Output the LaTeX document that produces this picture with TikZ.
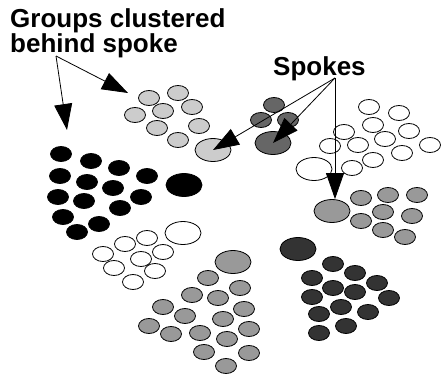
\documentclass[tikz,border=0pt]{standalone}
\usepackage{fontspec}
\setmainfont{Liberation Sans}
\usetikzlibrary{shapes.geometric,arrows.meta}
\definecolor{palegray}{HTML}{CCCCCC}
\definecolor{midgray}{HTML}{999999}
\definecolor{slategray}{HTML}{666666}
\definecolor{coalgray}{HTML}{333333}
\begin{document}
\begin{tikzpicture}[x=1pt, y=-1pt,
  blob/.style={draw, ellipse, line width=0.8pt, inner sep=0pt, minimum width=21pt, minimum height=15pt},
  spoke/.style={draw, ellipse, line width=0.8pt, inner sep=0pt, minimum width=36pt, minimum height=23pt},
  label/.style={inner sep=0pt, font=\bfseries\fontsize{26}{25}\selectfont},
  pointer/.style={line width=0.8pt, -{Triangle[length=26pt, width=18pt]}}]
\useasboundingbox (0,0) rectangle (447,375);
% light grey group
\foreach \p [count=\i] in {(149,98),(178,93),(135,115),(163,111),(192,107),(157,128),(199,126),(178,140)}
  \node[blob, fill=palegray] (pale\i) at \p {};
\node[spoke, fill=palegray] (palespoke) at (213,150) {};
% black group
\foreach \p [count=\i] in {(61,154),(91,161),(119,168),(147,176),(60,176),(87,182),(113,188),(141,197),(58,197),(84,201),(120,208),(63,217),(99,224),(77,232)}
  \node[blob, fill=black] (black\i) at \p {};
\node[spoke, fill=black] (blackspoke) at (184,185) {};
% white group, lower left
\foreach \p [count=\i] in {(147,238),(125,244),(103,254),(163,252),(141,259),(114,268),(155,271),(133,282)}
  \node[blob, fill=white] (white\i) at \p {};
\node[spoke, fill=white] (whitespoke) at (183,233) {};
% mid grey group, lower
\foreach \p [count=\i] in {(208,278),(240,288),(192,295),(218,298),(244,309),(163,307),(185,316),(223,319),(149,326),(249,329),(171,334),(200,333),(227,339),(204,352),(249,353),(226,366)}
  \node[blob, fill=midgray] (mid\i) at \p {};
\node[spoke, fill=midgray] (midspoke) at (233,262) {};
% dark group, lower right
\foreach \p [count=\i] in {(333,264),(312,278),(355,273),(377,283),(333,288),(355,292),(312,297),(389,298),(341,307),(319,314),(368,312),(346,326),(319,333)}
  \node[blob, fill=coalgray] (coal\i) at \p {};
\node[spoke, fill=coalgray] (coalspoke) at (298,249) {};
% white group, upper right
\foreach \p [count=\i] in {(369,107),(399,113),(373,125),(409,131),(344,132),(385,139),(430,145),(330,146),(358,145),(402,153),(373,160),(352,168)}
  \node[blob, fill=white] (snow\i) at \p {};
\node[spoke, fill=white] (snowspoke) at (314,169) {};
% mid grey group, right
\foreach \p [count=\i] in {(361,198),(388,195),(417,195),(383,212),(412,216),(361,221),(383,230),(405,237)}
  \node[blob, fill=midgray] (ash\i) at \p {};
\node[spoke, fill=midgray] (ashspoke) at (332,211) {};
% dark grey group, top
\foreach \p [count=\i] in {(274,105),(261,120),(288,120)}
  \node[blob, fill=slategray] (slate\i) at \p {};
\node[spoke, fill=slategray] (slatespoke) at (273,143) {};
% labels
\node[label, align=left, anchor=base west] (groups) at (10,52) {Groups clustered\\behind spoke};
\node[label, anchor=base west] (spokes) at (273,75) {Spokes};
\coordinate (groupsfoot) at (56,56);
\coordinate (spokesfoot) at (335,78);
\coordinate (blacktip) at (67,130);
\coordinate (paletip) at (128,93);
\draw[pointer] (groupsfoot) -- (blacktip);
\draw[pointer] (groupsfoot) -- (paletip);
\draw[pointer] (spokesfoot) -- (palespoke.center);
\draw[pointer] (spokesfoot) -- (slatespoke.center);
\draw[pointer] (spokesfoot) -- (spokesfoot |- ashspoke.north);
\end{tikzpicture}
\end{document}
